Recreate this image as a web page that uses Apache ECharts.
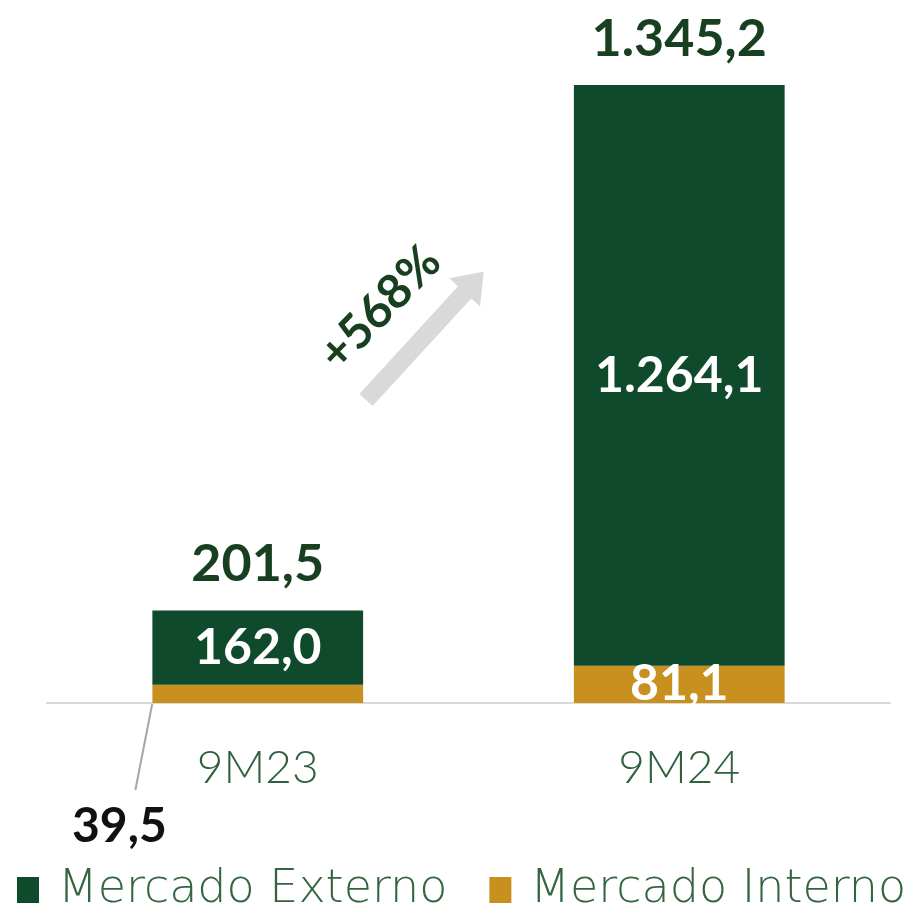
<!DOCTYPE html>
<html><head><meta charset="utf-8">
<script src="https://cdn.jsdelivr.net/npm/echarts@6/dist/echarts.min.js"></script>
<style>html,body{margin:0;padding:0;background:#fff}#c{width:915px;height:915px}</style>
</head><body><div id="c"></div>
<script>
const categories = ['9M23', '9M24'];
const externo = [162.0, 1264.1];
const interno = [39.5, 81.1];
const totals = [201.5, 1345.2];
const growthLabel = '+568%';

const GREEN = '#0f4a2c';
const ORANGE = '#c8901f';
const DARK = '#173f20';
const FONT = 'Lato, "Open Sans", sans-serif';
const WIDE = '"DejaVu Sans", sans-serif';

function br(v) {
  const parts = v.toFixed(1).split('.');
  parts[0] = parts[0].replace(/\B(?=(\d{3})+(?!\d))/g, '.');
  return parts.join(',');
}

const chart = echarts.init(document.getElementById('c'));
chart.setOption({
  animation: false,
  grid: { left: 47, right: 25, top: 14, bottom: 212 },
  legend: {
    data: ['Mercado Externo', 'Mercado Interno'],
    left: 12, top: 862, icon: 'rect', itemWidth: 22, itemHeight: 26, itemGap: 42,
    textStyle: { fontSize: 46, color: '#356540', fontFamily: WIDE, fontWeight: 300, padding: [0,0,0,14] }
  },
  xAxis: {
    type: 'category', data: categories,
    axisLine: { lineStyle: { color: '#d9d9d9', width: 2 } },
    axisTick: { show: false },
    axisLabel: { fontSize: 46, color: '#2f5f3c', fontFamily: FONT, fontWeight: 300, margin: 42 }
  },
  yAxis: { type: 'value', min: 0, max: 1500, show: false, splitLine: { show: false } },
  series: [
    {
      name: 'Mercado Interno', type: 'bar', stack: 's', barWidth: '50%',
      itemStyle: { color: ORANGE },
      data: interno.map((v, i) => ({
        value: v,
        label: i === 0 ? { show: false } : undefined
      })),
      label: { show: true, position: 'inside', color: '#fff', fontSize: 50, fontWeight: 'bold', fontFamily: FONT,
        formatter: p => br(p.value) }
    },
    {
      name: 'Mercado Externo', type: 'bar', stack: 's', barWidth: '50%',
      itemStyle: { color: GREEN },
      data: externo,
      label: { show: true, position: 'inside', color: '#fff', fontSize: 50, fontWeight: 'bold', fontFamily: FONT,
        formatter: p => br(p.value) }
    },
    {
      name: 'total', type: 'bar', stack: 's', barWidth: '50%',
      itemStyle: { color: 'transparent' },
      data: totals.map(() => 0),
      label: { show: true, position: 'top', distance: 20, color: DARK, fontSize: 52, fontWeight: 'bold', fontFamily: FONT,
        formatter: p => br(totals[p.dataIndex]) },
      tooltip: { show: false }
    }
  ]
});

const base = chart.convertToPixel({ gridIndex: 0 }, [0, 0]);
const bw = chart.getModel().getSeriesByIndex(0).getData().getItemLayout(0).width;
const bx = base[0] - bw / 2;
const by = base[1];

const L = 174, sw = 9, hw = 21, hl = 28;
const arrowPts = [[0,-sw],[L-hl,-sw],[L-hl,-hw],[L,0],[L-hl,hw],[L-hl,sw],[0,sw]];

chart.setOption({
  graphic: [
    { type: 'line', shape: { x1: bx, y1: by, x2: bx - 17, y2: by + 87 }, style: { stroke: '#a6a6a6', lineWidth: 2 } },
    { type: 'text', x: bx - 33, y: by + 124, style: { text: br(interno[0]), fill: '#111', font: 'bold 48px ' + FONT, textAlign: 'center', textVerticalAlign: 'middle' } },
    { type: 'polygon', x: 366, y: 400, rotation: 47.5 * Math.PI / 180, shape: { points: arrowPts }, style: { fill: '#d9d9d9' } },
    { type: 'text', x: 380, y: 308, rotation: 46 * Math.PI / 180, style: { text: growthLabel, fill: DARK, font: 'bold 48px ' + FONT, textAlign: 'center', textVerticalAlign: 'middle' } }
  ]
});
</script></body></html>
